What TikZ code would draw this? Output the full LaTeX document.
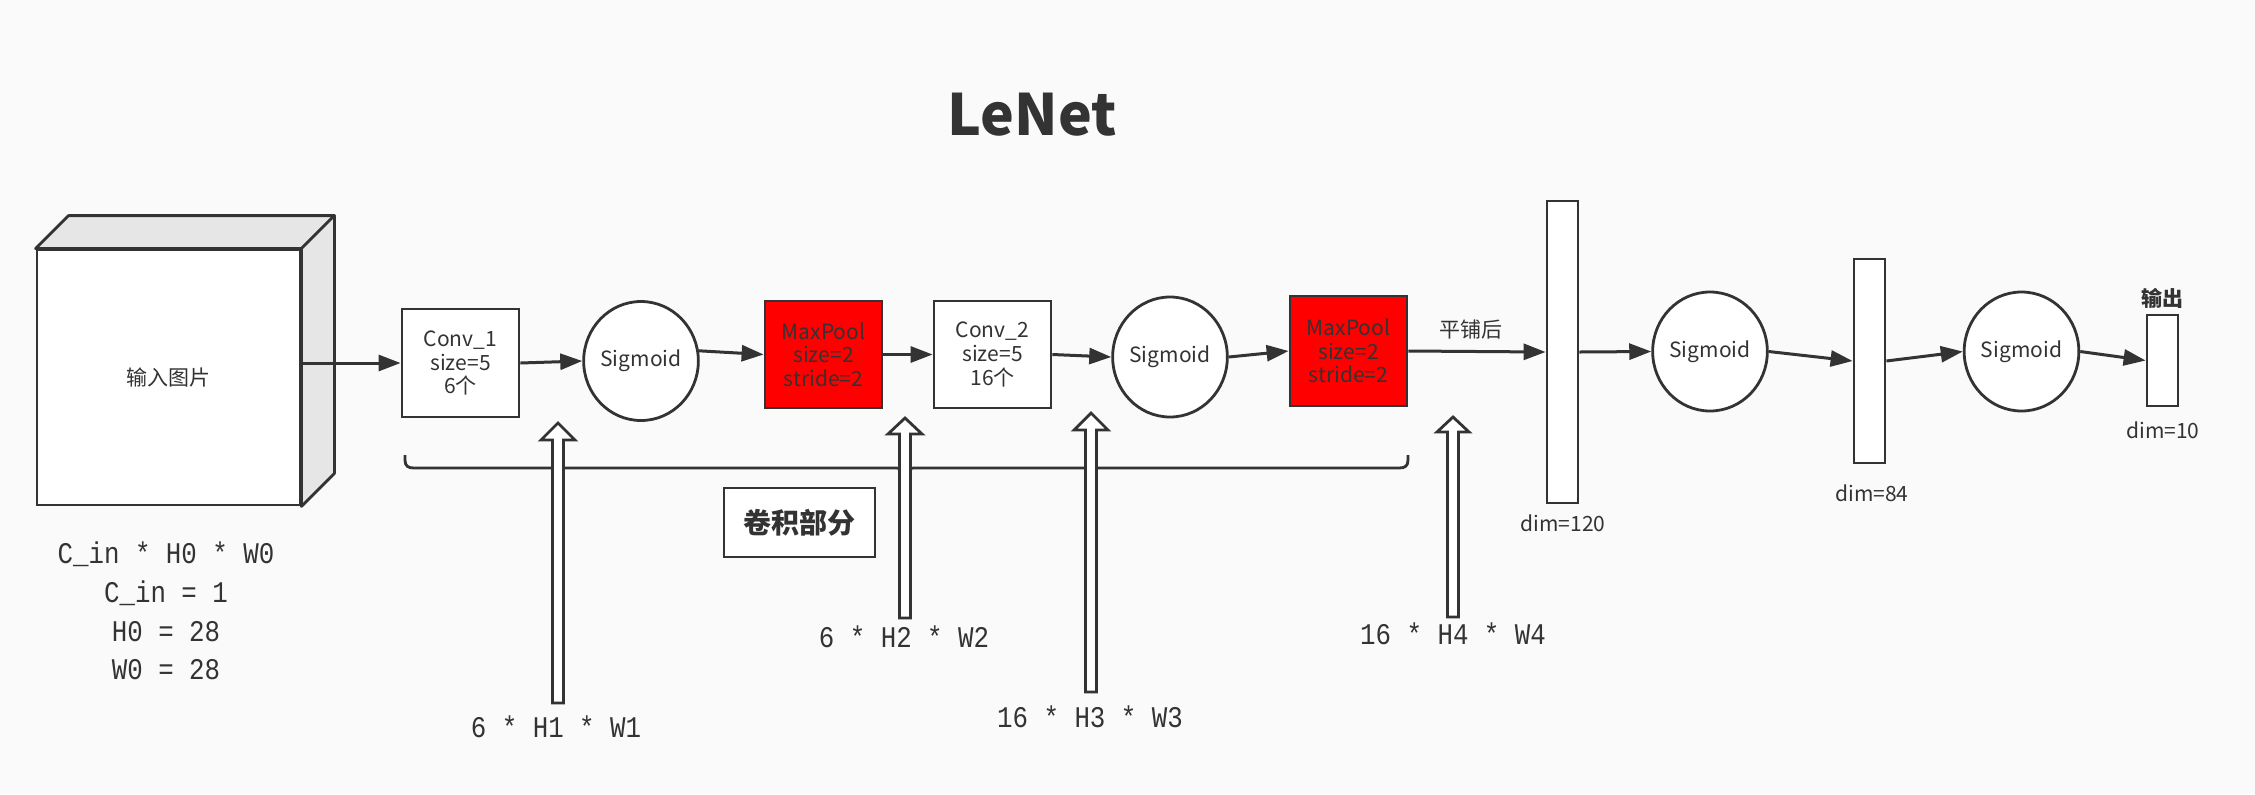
\documentclass[tikz,border=0pt]{standalone}
\usepackage{fontspec}
\setmainfont{Noto Sans CJK SC}
\newfontfamily\monofnt[FakeStretch=0.86]{Liberation Mono}
\usetikzlibrary{shapes.geometric,arrows.meta,calc}
\definecolor{dark}{RGB}{51,51,51}
\definecolor{bgc}{RGB}{250,250,250}
\definecolor{sidec}{RGB}{230,230,230}
\begin{document}
\begin{tikzpicture}[x=0.5pt,y=-0.5pt,
  lbl/.style={text=dark,font=\fontsize{10.5pt}{11.8pt}\selectfont,align=center,inner sep=0pt},
  box/.style={draw=dark,line width=1.4pt,fill=white,minimum width=58.5pt,minimum height=54pt,align=center,inner sep=0pt,text=dark,font=\fontsize{10.5pt}{11.8pt}\selectfont},
  pool/.style={box,fill=red},
  sig/.style={ellipse,draw=dark,line width=1.4pt,fill=white,minimum width=57pt,minimum height=59.5pt,inner sep=0pt,text=dark,font=\fontsize{10.5pt}{11.8pt}\selectfont},
  bar/.style={draw=dark,line width=1.4pt,fill=white,minimum width=15.5pt,inner sep=0pt},
  conn/.style={draw=dark,line width=1.5pt,-{Triangle[length=11pt,width=8pt]}},
  mono/.style={text=dark,font=\monofnt\fontsize{15pt}{19.5pt}\selectfont,inner sep=0pt,anchor=base},
  blockarrow/.style={draw=dark,line width=1.4pt,fill=white,line join=miter}
]
\fill[bgc] (0,0) rectangle (2255,794);
\useasboundingbox (0,0) rectangle (2255,794);

% title
\node[text=dark,font=\bfseries\fontsize{28.5pt}{34pt}\selectfont,anchor=base,inner sep=0pt] (title) at (1032,135) {LeNet};

% input cube
\node[box,minimum width=131.5pt,minimum height=127.5pt] (inp) at (168.5,377.5) {输入图片};
\draw[dark,line width=1.4pt,fill=sidec,line join=round] (inp.north west) -- ++(33,-33) -- ($(inp.north east)+(33,-33)$) -- (inp.north east) -- cycle;
\draw[dark,line width=1.4pt,fill=sidec,line join=round] (inp.north east) -- ++(33,-33) -- ($(inp.south east)+(33,-33)$) -- (inp.south east) -- cycle;

\node[mono] (d1) at (166,563) {C\_in * H0 * W0};
\node[mono] (d2) at (166,602) {C\_in = 1};
\node[mono] (d3) at (166,641) {H0 = 28};
\node[mono] (d4) at (166,679) {W0 = 28};

% main chain
\node[box] (conv1) at (460.5,363) {Conv\_1\\size=5\\6个};
\node[sig] (sig1) at (641,361) {Sigmoid};
\node[pool,minimum height=53.5pt] (mp1) at (823.5,354.5) {MaxPool\\size=2\\stride=2};
\node[box,minimum height=53.5pt] (conv2) at (992.5,354.5) {Conv\_2\\size=5\\16个};
\node[sig,minimum height=60pt] (sig2) at (1170,357) {Sigmoid};
\node[pool,minimum height=55pt] (mp2) at (1348.5,351) {MaxPool\\size=2\\stride=2};
\node[bar,minimum height=151pt] (fc1) at (1562.5,352) {};
\node[sig,minimum width=56pt] (sig3) at (1710,351.5) {Sigmoid};
\node[bar,minimum height=102pt] (fc2) at (1869.5,361) {};
\node[sig,minimum width=56.5pt] (sig4) at (2021.5,351.5) {Sigmoid};
\node[bar,minimum height=45.5pt] (out) at (2162.5,360.5) {};

\node[lbl] (flat) at (1471,330) {平铺后};
\node[lbl] (dim1) at (1563,523) {dim=120};
\node[lbl] (dim2) at (1872,493) {dim=84};
\node[lbl] (dim3) at (2163,430) {dim=10};
\node[lbl,font=\bfseries\fontsize{10.5pt}{11.8pt}\selectfont] (outl) at (2162,298) {输出};

\draw[conn] (inp.east |- conv1.west) -- (conv1.west);
\draw[conn] (conv1.east) -- (sig1.west);
\draw[conn] (sig1.10) -- (mp1.west);
\draw[conn] (mp1.east) -- (conv2.west);
\draw[conn] (conv2.east) -- (sig2.west);
\draw[conn] (sig2.east) -- (mp2.west);
\draw[conn] (mp2.east) -- (fc1.west);
\draw[conn] (fc1.east) -- (sig3.west);
\draw[conn] (sig3.east) -- (fc2.west);
\draw[conn] (fc2.east) -- (sig4.west);
\draw[conn] (sig4.east) -- (out.west);

% brace
\draw[dark,line width=1.4pt] (405,455) -- (405,460) .. controls (405,466) and (408,468) .. (414,468) -- (896,468) .. controls (902,468) and (905,470) .. (905,476) .. controls (905,470) and (908,468) .. (914,468) -- (1399,468) .. controls (1405,468) and (1408,466) .. (1408,460) -- (1408,455);

\node[draw=dark,line width=1.4pt,fill=white,minimum width=75.5pt,minimum height=34.5pt,inner sep=0pt,text=dark,font=\bfseries\fontsize{14pt}{16pt}\selectfont] (convpart) at (799.5,522.5) {卷积部分};

% block arrows
\draw[blockarrow] (552.5,703) -- (552.5,440) -- (541,440) -- (558,423) -- (575,440) -- (563.5,440) -- (563.5,703) -- cycle;
\draw[blockarrow] (899.5,618) -- (899.5,434) -- (888,434) -- (905,418) -- (922,434) -- (910.5,434) -- (910.5,618) -- cycle;
\draw[blockarrow] (1085.5,692) -- (1085.5,430) -- (1074,430) -- (1091,413) -- (1108,430) -- (1096.5,430) -- (1096.5,692) -- cycle;
\draw[blockarrow] (1447.5,617) -- (1447.5,432) -- (1437,432) -- (1453,417) -- (1469,432) -- (1458.5,432) -- (1458.5,617) -- cycle;

\node[mono] (s1) at (556,737) {6 * H1 * W1};
\node[mono] (s2) at (904,647) {6 * H2 * W2};
\node[mono] (s3) at (1090,727) {16 * H3 * W3};
\node[mono] (s4) at (1453,644) {16 * H4 * W4};
\end{tikzpicture}
\end{document}
